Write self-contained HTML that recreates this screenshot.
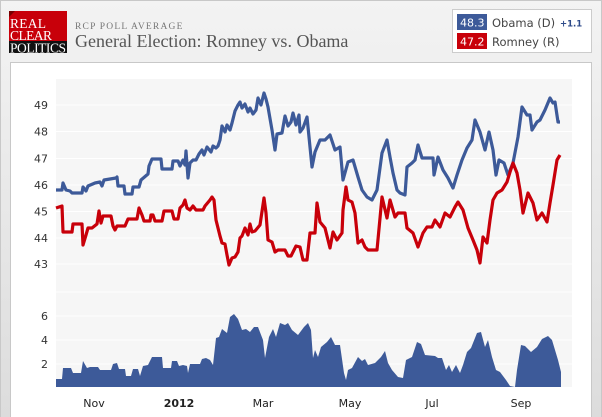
<!DOCTYPE html>
<html><head><style>
body{margin:0;width:602px;height:417px;overflow:hidden;background:#fff}
</style></head><body>
<svg width="602" height="417" xmlns="http://www.w3.org/2000/svg" style="display:block">
<defs><linearGradient id="g" x1="0" y1="0" x2="0" y2="1"><stop offset="0" stop-color="#f3f3f3"/><stop offset="1" stop-color="#dcdcdc"/></linearGradient></defs>
<rect x="0.5" y="0.5" width="601" height="420" fill="url(#g)" stroke="#c8c8c8"/>
<rect x="10.5" y="62.5" width="581" height="360" fill="#fff" stroke="#c8c8c8"/>
<!-- logo -->
<rect x="9" y="11" width="58" height="31" fill="#c8000a"/>
<polygon points="9,11 15,11 9,17" fill="#700"/>
<rect x="9" y="41" width="58" height="12" fill="#111"/>
<g font-family="Liberation Serif,serif" fill="#fff" font-size="13.5">
<text x="10" y="28" textLength="36">REAL</text><text x="10" y="40" textLength="42">CLEAR</text><text x="10" y="52.5" textLength="56">POLITICS</text></g>
<text x="75" y="29" font-family="Liberation Serif,serif" font-size="9.5" fill="#777" letter-spacing="1.2">RCP POLL AVERAGE</text>
<text x="75" y="47" font-family="Liberation Serif,serif" font-size="18" fill="#555">General Election: Romney vs. Obama</text>
<!-- legend -->
<rect x="452.5" y="9.5" width="139" height="43" fill="#fff" stroke="#ccc"/>
<rect x="457" y="14" width="30" height="16" fill="#3d5a99"/>
<rect x="457" y="33" width="30" height="16" fill="#c8000a"/>
<g font-family="DejaVu Sans,sans-serif" font-size="11" fill="#fff"><text x="460" y="26.5">48.3</text><text x="460" y="45.5">47.2</text></g>
<g font-family="DejaVu Sans,sans-serif" font-size="11.5" fill="#444"><text x="492" y="27">Obama (D)</text><text x="492" y="46">Romney (R)</text></g>
<text x="560" y="26.5" font-family="DejaVu Sans,sans-serif" font-size="8.5" font-weight="bold" fill="#2d4a89">+1.1</text>
<!-- plot bg -->
<rect x="56" y="79" width="516" height="308" fill="#f6f6f6"/>
<g stroke="#fff" stroke-width="1">
<line x1="56" x2="572" y1="105" y2="105"/><line x1="56" x2="572" y1="131.5" y2="131.5"/><line x1="56" x2="572" y1="158.5" y2="158.5"/><line x1="56" x2="572" y1="185" y2="185"/><line x1="56" x2="572" y1="211.5" y2="211.5"/><line x1="56" x2="572" y1="238" y2="238"/><line x1="56" x2="572" y1="264" y2="264"/>
<line x1="56" x2="572" y1="292" y2="292"/><line x1="56" x2="572" y1="316" y2="316"/><line x1="56" x2="572" y1="340" y2="340"/><line x1="56" x2="572" y1="364" y2="364"/>
</g>
<g font-family="DejaVu Sans,sans-serif" font-size="11" fill="#333" text-anchor="end">
<text x="48" y="109">49</text><text x="48" y="135.5">48</text><text x="48" y="162.5">47</text><text x="48" y="189">46</text><text x="48" y="215.5">45</text><text x="48" y="242">44</text><text x="48" y="268">43</text>
<text x="48" y="320">6</text><text x="48" y="344">4</text><text x="48" y="368">2</text>
</g>
<polyline fill="none" stroke="#3d5a99" stroke-width="3.2" stroke-linejoin="round" points="56,190 62,190 63,183 66,190 70,191 72,193 82,193 83,187 86,191 88,186 95,183 100,182 102,186 104,180 116,178 117,177 118,186 124,186 125,194 132,194 133,187 139,187 141,180 148,174 149,166 152,159 161,159 162,169 172,169 173,161 178,161 180,166 183,160 185,165 186,151 188,178 190,163 193,160 196,160 199,154 202,150 204,155 207,147 211,152 213,146 216,148 218,146 220,140 222,126 225,132 227,125 230,130 232,123 235,111 238,105 240,102 242,108 245,104 248,112 250,108 253,114 256,110 258,98 261,105 264,93 266,99 268,107 272,130 275,150 277,134 282,133 285,116 288,126 291,122 293,113 296,125 299,115 300,132 303,128 307,117 312,167 315,152 320,140 325,140 330,135 335,150 340,147 343,180 348,162 353,160 358,177 362,190 367,197 372,200 377,190 382,153 387,140 390,157 393,173 397,190 400,193 405,195 407,167 412,163 415,160 418,145 422,158 428,158 433,158 434,175 438,157 443,170 448,178 453,188 457,175 462,160 467,148 472,140 475,120 480,132 485,150 489,132 493,150 496,175 499,160 504,163 508,175 513,163 518,137 522,107 527,115 530,115 532,130 537,122 540,120 545,110 550,98 553,103 555,102 558,122 560,122"/>
<polyline fill="none" stroke="#c8000a" stroke-width="3.2" stroke-linejoin="round" points="56,208 62,206 63,232 72,232 73,224 82,224 83,245 86,235 88,228 92,228 97,224 99,211 101,223 103,216 111,216 113,226 115,230 117,226 125,226 128,219 137,219 139,208 142,215 144,221 150,221 151,215 153,215 155,221 162,221 164,211 172,211 174,219 178,219 180,208 183,205 185,200 187,208 190,210 193,206 196,210 203,210 205,206 210,200 212,197 214,200 216,220 220,236 222,243 225,244 227,255 229,265 232,258 235,257 238,252 240,238 242,236 245,228 248,235 250,224 252,232 255,231 260,225 264,198 266,213 268,240 272,242 275,252 278,250 282,250 285,250 288,256 291,256 293,252 296,246 300,247 303,260 307,260 310,233 315,233 317,203 320,222 325,228 330,248 333,232 337,240 342,233 343,210 346,187 348,200 352,202 355,213 358,243 362,240 365,247 368,250 377,250 382,197 387,218 390,200 395,217 398,213 405,213 407,228 413,233 418,247 423,233 427,227 432,227 435,220 440,227 445,213 450,217 455,207 458,202 463,210 468,228 473,240 477,250 480,263 483,237 487,243 490,220 493,200 497,193 502,190 507,182 510,172 513,163 517,173 520,190 523,213 528,193 533,203 537,220 542,213 547,222 550,203 553,185 557,160 560,155"/>
<polygon fill="#3d5a99" points="56,387 56,379 62,379 63,368 71,368 73,373 81,373 83,361 87,368 90,367 98,367 100,370 111,370 113,364 117,363 119,369 125,369 126,376 131,376 133,369 138,369 140,376 143,366 148,365 152,357 162,357 163,368 171,368 172,361 177,361 179,366 183,365 187,366 188,373 190,364 200,364 202,359 206,358 210,360 213,365 216,338 219,337 222,329 227,333 230,317 234,314 238,319 242,330 246,329 250,332 254,327 258,327 263,340 265,358 269,337 273,329 276,337 280,323 285,325 288,323 292,330 298,335 304,327 308,323 311,330 313,358 315,350 318,357 321,347 327,342 331,337 335,345 340,345 344,373 346,380 348,370 352,368 358,357 362,361 365,359 368,365 375,363 381,357 385,351 388,363 392,370 398,377 403,378 406,360 412,357 417,342 421,344 425,355 435,356 438,358 442,358 446,370 449,365 452,372 456,365 460,373 463,365 467,352 471,348 477,333 481,332 485,347 488,340 492,357 496,370 500,372 506,380 510,386 515,387 517,370 521,345 525,346 531,352 537,347 542,339 548,336 552,340 555,350 558,360 561,372 561,387"/>
<g font-family="DejaVu Sans,sans-serif" font-size="11" fill="#222" text-anchor="middle">
<text x="94" y="407">Nov</text><text x="179" y="407" font-weight="bold">2012</text><text x="263" y="407">Mar</text><text x="350" y="407">May</text><text x="432" y="407">Jul</text><text x="521" y="407">Sep</text>
</g>
</svg>
</body></html>
